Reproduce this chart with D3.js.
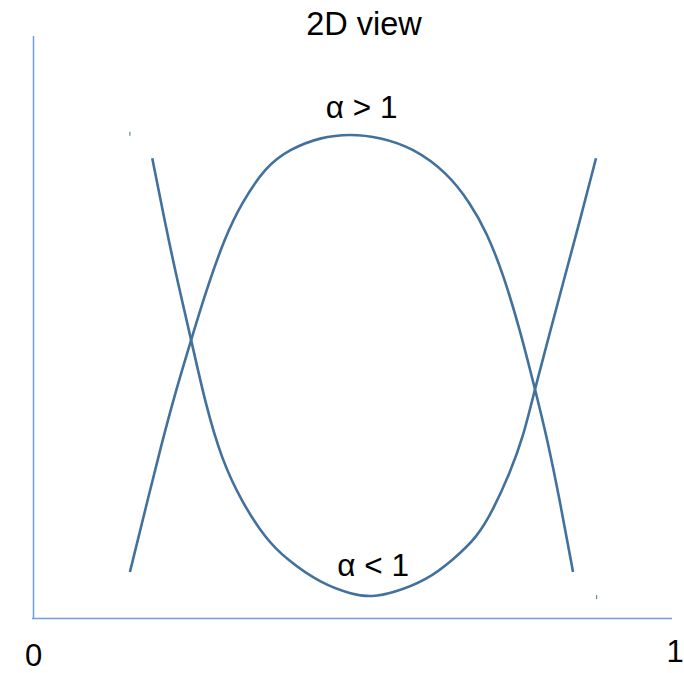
<!DOCTYPE html>
<html>
<head>
<meta charset="utf-8">
<script src="https://cdn.jsdelivr.net/npm/d3@7/dist/d3.min.js"></script>
<style>
  html, body { margin: 0; padding: 0; background: #fff; }
  svg { display: block; }
  text { font-family: "Liberation Sans", Arial, sans-serif; fill: #000; }
</style>
</head>
<body>
<svg id="chart" width="684" height="673"></svg>
<script>
// ---- data ----
const title = "2D view";
const xTickValues = [0, 1];
const xTickLabels = ["0", "1"];

// curve with alpha > 1 (cap shape)
const capX = [0.151, 0.175, 0.201, 0.222, 0.247, 0.269, 0.300, 0.326, 0.363, 0.402, 0.449, 0.496, 0.543, 0.594, 0.648, 0.684, 0.710, 0.735, 0.762, 0.785, 0.804, 0.825, 0.845];
const capY = [0.079, 0.186, 0.301, 0.387, 0.478, 0.558, 0.655, 0.713, 0.775, 0.806, 0.826, 0.832, 0.826, 0.808, 0.765, 0.713, 0.662, 0.593, 0.495, 0.395, 0.311, 0.198, 0.079];

// curve with alpha < 1 (cup shape)
const cupX = [0.186, 0.206, 0.226, 0.247, 0.269, 0.295, 0.327, 0.363, 0.397, 0.449, 0.500, 0.530, 0.563, 0.616, 0.657, 0.695, 0.720, 0.746, 0.767, 0.785, 0.804, 0.829, 0.856, 0.881];
const cupY = [0.790, 0.679, 0.576, 0.478, 0.369, 0.271, 0.198, 0.137, 0.100, 0.060, 0.040, 0.036, 0.043, 0.065, 0.100, 0.139, 0.186, 0.249, 0.311, 0.392, 0.471, 0.574, 0.684, 0.790];

const curveLabels = ["α > 1", "α < 1"];
const curveLabelX = [0.514, 0.532];
const curveLabelY = [0.859, 0.072];

// tiny stray marks present in the source
const markX = [0.151, 0.882];
const markY = [0.832, 0.036];

// ---- drawing ----
const svg = d3.select("#chart");
const x = d3.scaleLinear().domain([0, 1]).range([33.5, 672]);
const y = d3.scaleLinear().domain([0, 1]).range([618, 36]);

const axisColor = "#6f9fdb";
const curveColor = "#41719c";

// axes
svg.append("line")
  .attr("x1", x(0)).attr("x2", x(0))
  .attr("y1", y(1)).attr("y2", y(0) + 1)
  .attr("stroke", axisColor).attr("stroke-width", 1.5);
svg.append("line")
  .attr("x1", x(0) - 1.5).attr("x2", x(1))
  .attr("y1", y(0) + 0.5).attr("y2", y(0) + 0.5)
  .attr("stroke", axisColor).attr("stroke-width", 1.5);

// tick labels
const tickDx = [0, 3];
const tickDy = [48, 44];
svg.selectAll("text.tick")
  .data(xTickValues)
  .enter().append("text")
  .attr("class", "tick")
  .attr("x", (d, i) => x(d) + tickDx[i])
  .attr("y", (d, i) => y(0) + tickDy[i])
  .attr("text-anchor", "middle")
  .attr("font-size", 31)
  .text((d, i) => xTickLabels[i]);

// curves
const line = d3.line()
  .x(d => x(d[0]))
  .y(d => y(d[1]))
  .curve(d3.curveBasis);

const series = [
  d3.zip(capX, capY),
  d3.zip(cupX, cupY)
];
svg.selectAll("path.curve")
  .data(series)
  .enter().append("path")
  .attr("class", "curve")
  .attr("d", line)
  .attr("fill", "none")
  .attr("stroke", curveColor)
  .attr("stroke-width", 2.6);

// stray marks
svg.selectAll("line.mark")
  .data(d3.zip(markX, markY))
  .enter().append("line")
  .attr("class", "mark")
  .attr("x1", d => x(d[0])).attr("x2", d => x(d[0]))
  .attr("y1", d => y(d[1]) - 2).attr("y2", d => y(d[1]) + 2)
  .attr("stroke", curveColor).attr("stroke-width", 1);

// curve labels
svg.selectAll("text.clabel")
  .data(curveLabels)
  .enter().append("text")
  .attr("class", "clabel")
  .attr("x", (d, i) => x(curveLabelX[i]))
  .attr("y", (d, i) => y(curveLabelY[i]))
  .attr("text-anchor", "middle")
  .attr("font-size", 31.5)
  .text(d => d);

// title
svg.append("text")
  .attr("x", 364)
  .attr("y", 35)
  .attr("text-anchor", "middle")
  .attr("font-size", 32.5)
  .text(title);
</script>
</body>
</html>
